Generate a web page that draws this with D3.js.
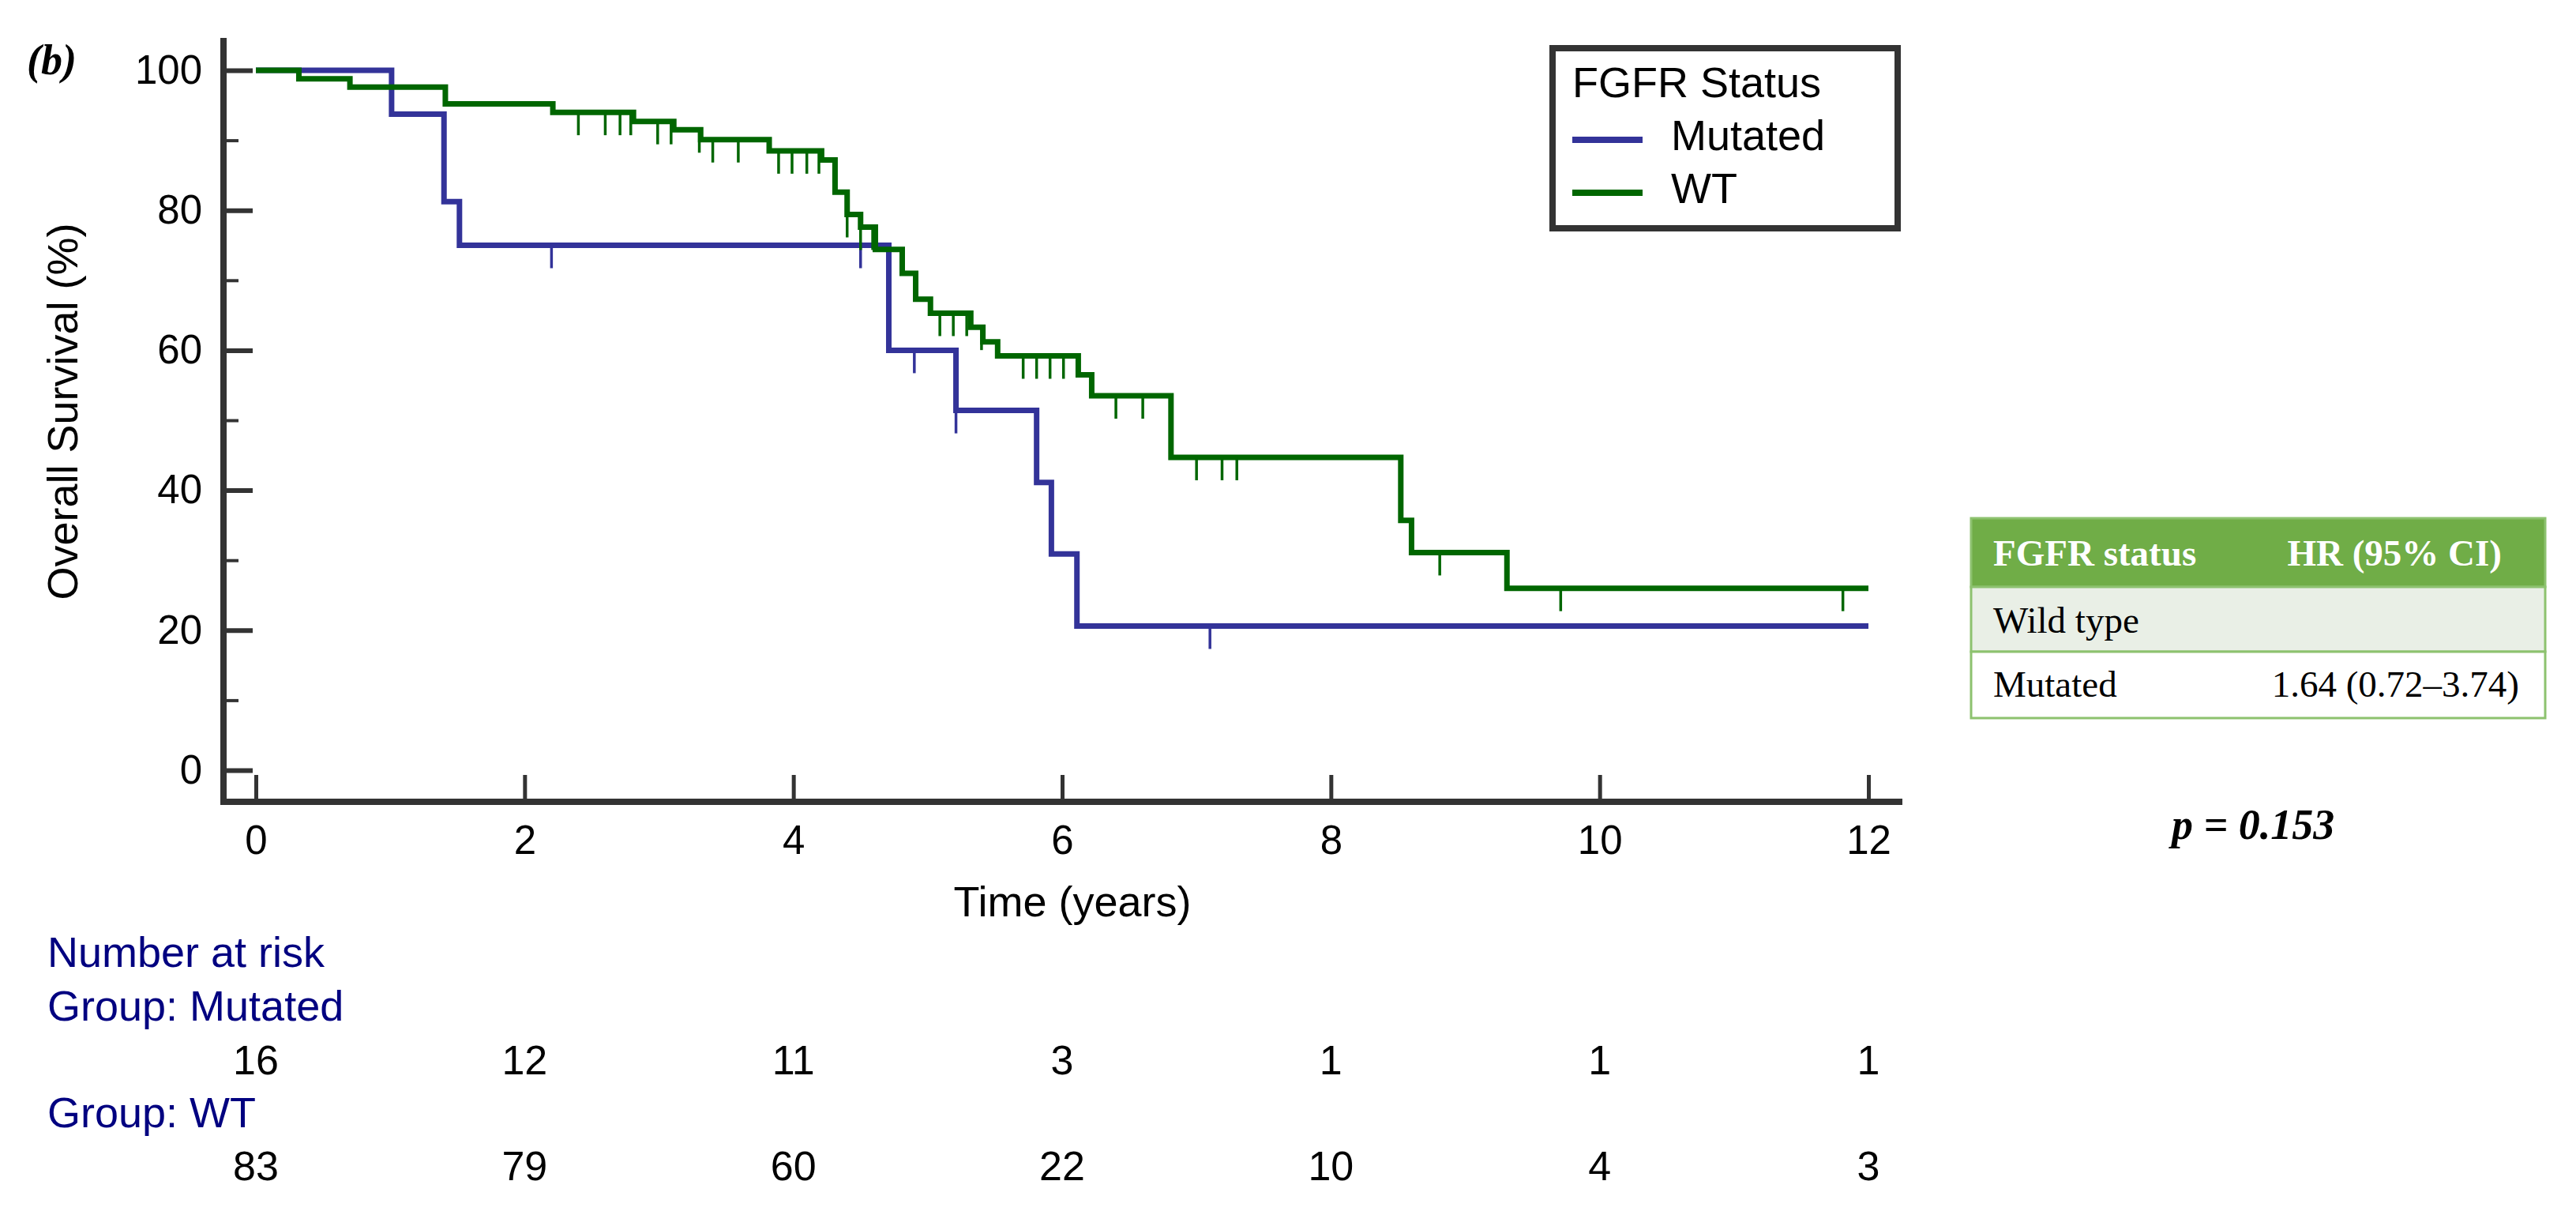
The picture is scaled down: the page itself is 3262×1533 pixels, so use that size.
<!DOCTYPE html>
<html>
<head>
<meta charset="utf-8">
<script src="https://cdn.jsdelivr.net/npm/d3@7"></script>
<style>
  body { margin: 0; background: #fff; }
  text { font-family: "Liberation Sans", Arial, sans-serif; }
  .serif { font-family: "Liberation Serif", "Times New Roman", serif; }
</style>
</head>
<body>
<svg id="chart" width="3262" height="1533"></svg>
<script>
// survival steps: [time (years), survival %]
const mutatedSteps = [[0,100],[1.01,93.75],[1.40,81.25],[1.515,75],[4.71,60],[5.21,51.4],[5.81,41.1],[5.92,30.9],[6.11,20.6]]
const mutatedCensor = [2.2, 4.5, 4.9, 5.21, 7.1]
const wtSteps = [[0,100],[0.32,98.8],[0.70,97.6],[1.41,95.2],[2.21,94.0],[2.81,92.7],[3.11,91.5],[3.31,90.1],[3.82,88.5],
  [4.21,87.2],[4.31,82.6],[4.40,79.4],[4.50,77.6],[4.61,74.4],[4.81,71.0],[4.91,67.3],[5.02,65.3],[5.32,63.3],
  [5.41,61.2],[5.52,59.2],[6.12,56.5],[6.22,53.5],[6.81,44.7],[8.52,35.7],[8.60,31.1],[9.31,26.0]]
const wtCensor = [2.40,2.60,2.71,2.79,2.99,3.09,3.30,3.40,3.59,3.89,3.99,4.10,4.19,4.30,4.40,4.50,4.59,4.80,
  5.09,5.19,5.29,5.40,5.71,5.81,5.91,6.01,6.40,6.60,7.0,7.19,7.30,8.81,9.71,11.81]
const maxTime = 12

const xTicks = [0,2,4,6,8,10,12]
const yMajor = [0,20,40,60,80,100]
const yMinor = [10,30,50,70,90]

const riskTimes = [0,2,4,6,8,10,12]
const riskMutated = [16,12,11,3,1,1,1]
const riskWT = [83,79,60,22,10,4,3]

const groups = ['Mutated', 'WT']
const colors = ['#333399', '#006600']

const hrHeader = ['FGFR status', 'HR (95% CI)']
const hrRows = [['Wild type', ''], ['Mutated', '1.64 (0.72\u20133.74)']]
const pText = 'p = 0.153'

const svg = d3.select('#chart')

const x = d3.scaleLinear().domain([0, 12]).range([324, 2366])
const y = d3.scaleLinear().domain([0, 100]).range([975, 89])

const axisX0 = 283, axisY0 = 1015

// y axis: major + minor ticks pointing inward
const yAx = svg.append('g').attr('transform', `translate(${axisX0},0)`)
  .call(d3.axisLeft(y).tickValues(yMajor).tickSize(-37).tickPadding(27))
yAx.select('.domain').remove()
yAx.selectAll('line').attr('stroke', '#333').attr('stroke-width', 6)
yAx.selectAll('text').attr('font-size', 51).attr('fill', '#000')
  .attr('font-family', '"Liberation Sans", Arial, sans-serif')

const yMin = svg.append('g').attr('transform', `translate(${axisX0},0)`)
  .call(d3.axisLeft(y).tickValues(yMinor).tickSize(-19).tickFormat(''))
yMin.select('.domain').remove()
yMin.selectAll('line').attr('stroke', '#333').attr('stroke-width', 4)

// x axis
const xAx = svg.append('g').attr('transform', `translate(0,${axisY0})`)
  .call(d3.axisBottom(x).tickValues(xTicks).tickSize(-34).tickPadding(30))
xAx.select('.domain').remove()
xAx.selectAll('line').attr('stroke', '#333').attr('stroke-width', 5)
xAx.selectAll('text').attr('font-size', 51).attr('fill', '#000')
  .attr('font-family', '"Liberation Sans", Arial, sans-serif')

// axis lines
svg.append('path')
  .attr('d', `M${axisX0},48V${axisY0}H2409`)
  .attr('fill', 'none').attr('stroke', '#333').attr('stroke-width', 8)

// survival curves
function stepPath(steps) {
  let d = `M${x(steps[0][0])},${y(steps[0][1])}`
  for (let i = 1; i < steps.length; i++) {
    d += `H${x(steps[i][0])}V${y(steps[i][1])}`
  }
  d += `H${x(maxTime)}`
  return d
}
function levelAt(steps, t) {
  let s = steps[0][1]
  for (let i = 0; i < steps.length; i++) {
    if (steps[i][0] <= t) s = steps[i][1]
  }
  return s
}

const series = [
  {steps: mutatedSteps, censor: mutatedCensor, color: colors[0]},
  {steps: wtSteps, censor: wtCensor, color: colors[1]}
]

series.forEach(function(sr) {
  svg.append('path')
    .attr('d', stepPath(sr.steps))
    .attr('fill', 'none')
    .attr('stroke', sr.color)
    .attr('stroke-width', 7)
    .attr('stroke-linejoin', 'miter')
  svg.selectAll(null)
    .data(sr.censor)
    .enter()
    .append('line')
      .attr('x1', d => x(d)).attr('x2', d => x(d))
      .attr('y1', d => y(levelAt(sr.steps, d)))
      .attr('y2', d => y(levelAt(sr.steps, d)) + 29)
      .attr('stroke', sr.color)
      .attr('stroke-width', 3.5)
})

// panel label
svg.append('text').attr('class', 'serif')
  .attr('x', 34).attr('y', 94)
  .attr('font-size', 54).attr('font-weight', 'bold').attr('font-style', 'italic')
  .text('(b)')

// axis titles
svg.append('text')
  .attr('transform', 'translate(98,521) rotate(-90)')
  .attr('text-anchor', 'middle').attr('font-size', 54)
  .text('Overall Survival (%)')

svg.append('text')
  .attr('x', 1358).attr('y', 1160)
  .attr('text-anchor', 'middle').attr('font-size', 54)
  .text('Time (years)')

// legend
const lg = svg.append('g')
lg.append('rect')
  .attr('x', 1966).attr('y', 61).attr('width', 437).attr('height', 228)
  .attr('fill', '#fff').attr('stroke', '#333').attr('stroke-width', 8)
lg.append('text').attr('x', 1991).attr('y', 123).attr('font-size', 54).text('FGFR Status')
groups.forEach(function(g, i) {
  const ly = 177 + i * 67
  lg.append('line')
    .attr('x1', 1991).attr('x2', 2080).attr('y1', ly).attr('y2', ly)
    .attr('stroke', colors[i]).attr('stroke-width', 8)
  lg.append('text').attr('x', 2116).attr('y', ly + 13).attr('font-size', 54).text(g)
})

// number at risk
const navy = '#000080'
svg.append('text').attr('x', 60).attr('y', 1224).attr('font-size', 54).attr('fill', navy).text('Number at risk')
svg.append('text').attr('x', 60).attr('y', 1292).attr('font-size', 54).attr('fill', navy).text('Group: Mutated')
svg.append('text').attr('x', 60).attr('y', 1427).attr('font-size', 54).attr('fill', navy).text('Group: WT')

svg.selectAll(null).data(riskMutated).enter().append('text')
  .attr('x', (d, i) => x(riskTimes[i])).attr('y', 1360)
  .attr('text-anchor', 'middle').attr('font-size', 52)
  .text(d => d)
svg.selectAll(null).data(riskWT).enter().append('text')
  .attr('x', (d, i) => x(riskTimes[i])).attr('y', 1494)
  .attr('text-anchor', 'middle').attr('font-size', 52)
  .text(d => d)

// HR table
const tX0 = 2496, tX1 = 3223
const rowEdges = [656, 743, 825, 909]
const rowFills = ['#70AD47', '#E9EFE6', '#FFFFFF']
const tb = svg.append('g')
for (let r = 0; r < 3; r++) {
  tb.append('rect')
    .attr('x', tX0).attr('y', rowEdges[r])
    .attr('width', tX1 - tX0).attr('height', rowEdges[r + 1] - rowEdges[r])
    .attr('fill', rowFills[r]).attr('stroke', '#8DC26F').attr('stroke-width', 3)
}
tb.append('text').attr('class', 'serif').attr('x', 2524).attr('y', 716)
  .attr('font-size', 47).attr('font-weight', 'bold').attr('fill', '#fff').text(hrHeader[0])
tb.append('text').attr('class', 'serif').attr('x', 3168).attr('y', 716).attr('text-anchor', 'end')
  .attr('font-size', 47).attr('font-weight', 'bold').attr('fill', '#fff').text(hrHeader[1])
hrRows.forEach(function(row, i) {
  const by = [801, 882][i]
  tb.append('text').attr('class', 'serif').attr('x', 2524).attr('y', by)
    .attr('font-size', 47).text(row[0])
  tb.append('text').attr('class', 'serif').attr('x', 3190).attr('y', by).attr('text-anchor', 'end')
    .attr('font-size', 47).text(row[1])
})

svg.append('text').attr('class', 'serif')
  .attr('x', 2750).attr('y', 1062)
  .attr('font-size', 54).attr('font-weight', 'bold').attr('font-style', 'italic')
  .text(pText)
</script>
</body>
</html>
